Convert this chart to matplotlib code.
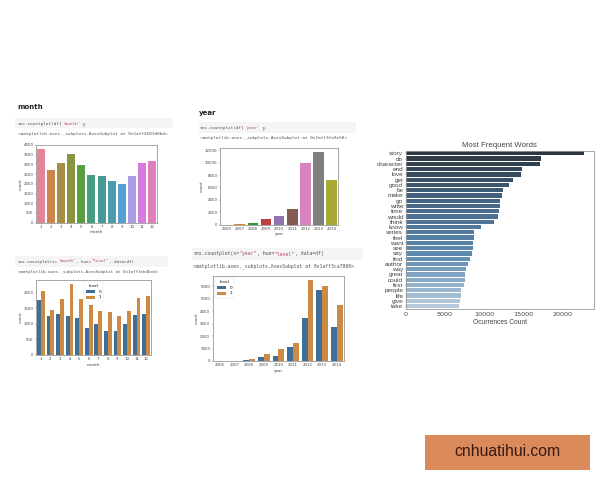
import matplotlib
matplotlib.use("Agg")
import matplotlib.pyplot as plt
from matplotlib.patches import Rectangle
from matplotlib.colors import LinearSegmentedColormap
import seaborn as sns
import numpy as np

months = [1, 2, 3, 4, 5, 6, 7, 8, 9, 10, 11, 12]
month_counts = [3794, 2695, 3073, 3519, 2970, 2455, 2403, 2146, 2009, 2386, 3090, 3193]
month_level0 = [1753, 1258, 1312, 1247, 1172, 871, 1011, 785, 774, 989, 1280, 1301]
month_level1 = [2043, 1452, 1785, 2280, 1806, 1591, 1419, 1387, 1258, 1409, 1839, 1892]

years = [2006, 2007, 2008, 2009, 2010, 2011, 2012, 2013, 2014]
year_counts = [30, 40, 200, 910, 1340, 2570, 9910, 11730, 7230]
year_level0 = [10, 10, 60, 350, 370, 1100, 3470, 5720, 2770]
year_level1 = [30, 30, 190, 560, 930, 1470, 6470, 6040, 4480]

words = ["story", "do", "character", "end", "love", "get", "good", "be", "make", "go",
         "write", "time", "would", "think", "know", "series", "feel", "want", "see", "say",
         "find", "author", "way", "great", "could", "first", "people", "life", "give", "take"]
word_counts = [22800, 17280, 17190, 14850, 14680, 13700, 13150, 12380, 12260, 12040,
               12000, 11900, 11830, 11280, 9660, 8770, 8720, 8640, 8550, 8510,
               8170, 7960, 7700, 7620, 7530, 7450, 7100, 7020, 6940, 6810]

W, H = 600, 480
fig = plt.figure(figsize=(6, 4.8), dpi=100, facecolor="white")
renderer = fig.canvas.get_renderer()
TXT = "#444444"
BLUE = "#3f6f96"
ORANGE = "#cc8a45"


def make_axes(l, t, r, b):
    ax = fig.add_axes([l / W, 1 - b / H, (r - l) / W, (b - t) / H])
    for s in ax.spines.values():
        s.set_color("#999999")
        s.set_linewidth(0.6)
    ax.tick_params(length=1, width=0.3, pad=0.8, labelsize=2.8, colors=TXT, color="#777777")
    return ax


def finish(ax, cats, xlabel, ymax, yticks):
    ax.set_xlim(-0.5, len(cats) - 0.5)
    ax.set_ylim(0, ymax)
    ax.set_xticks(np.arange(len(cats)))
    ax.set_xticklabels(cats)
    ax.set_yticks(yticks)
    ax.set_xlabel(xlabel, fontsize=3, color=TXT, labelpad=0.8)
    ax.set_ylabel("count", fontsize=3, color=TXT, labelpad=0.8)


def simple(ax, cats, vals, colors, xlabel, ymax, yticks):
    x = np.arange(len(cats))
    ax.bar(x, vals, width=0.8, color=colors)
    finish(ax, cats, xlabel, ymax, yticks)


def hued(ax, cats, a, b, xlabel, ymax, yticks, loc, anchor):
    x = np.arange(len(cats))
    ax.bar(x - 0.2, a, width=0.4, color=BLUE, label="0")
    ax.bar(x + 0.2, b, width=0.4, color=ORANGE, label="1")
    finish(ax, cats, xlabel, ymax, yticks)
    leg = ax.legend(title="level", loc=loc, bbox_to_anchor=anchor, fontsize=3, title_fontsize=3,
                    frameon=True, framealpha=0.8, edgecolor="#dddddd",
                    handlelength=2.2, handleheight=0.7, borderpad=0.5, labelspacing=0.4)
    leg.get_frame().set_linewidth(0.3)


def code(x, y, parts, size):
    for s, c in parts:
        t = fig.text(x / W, 1 - (y + 1.5) / H, s, family="DejaVu Sans Mono", fontsize=size,
                     color=c, va="baseline")
        x += t.get_window_extent(renderer).width + 0.3


def cell(l, t, r, b):
    fig.patches.append(Rectangle((l / W, 1 - b / H), (r - l) / W, (b - t) / H,
                                 transform=fig.transFigure, figure=fig,
                                 facecolor="#f5f5f5", edgecolor="none"))


CODE = "#555555"
RED = "#b5476a"

# headings and notebook cells
fig.text(17 / W, 1 - 107 / H, "month", fontsize=5, fontweight="bold", color="#222222", va="center")
cell(15, 118, 173, 128)
code(18, 123.5, [("sns.countplot(df[", CODE), ("'month'", RED), ("])", CODE)], 3.2)
code(18, 134, [("<matplotlib.axes._subplots.AxesSubplot at 0x1aff4603d0bd>", CODE)], 3.2)

fig.text(199 / W, 1 - 113 / H, "year", fontsize=5, fontweight="bold", color="#222222", va="center")
cell(199, 122, 356, 133)
code(200, 128, [("sns.countplot(df[", CODE), ("'year'", RED), ("])", CODE)], 3.2)
code(200, 138, [("<matplotlib.axes._subplots.AxesSubplot at 0x1aff3fa9e50>", CODE)], 3.2)

cell(15, 256, 168, 267)
code(18, 261, [("sns.countplot(x=", CODE), ('"month"', RED), (", hue=", CODE), ('"level"', RED),
               (", data=df)", CODE)], 3.1)
code(18, 271, [("<matplotlib.axes._subplots.AxesSubplot at 0x1aff3eb4bed>", CODE)], 3.1)

cell(192, 248, 363, 260)
code(193, 254, [("sns.countplot(x=", CODE), ('"year"', RED), (", hue=", CODE), ('"level"', RED),
                (", data=df)", CODE)], 3.5)
code(193, 266, [("<matplotlib.axes._subplots.AxesSubplot at 0x1aff3ca7860>", CODE)], 3.5)

# month count
ax1 = make_axes(36, 145, 157, 222.7)
simple(ax1, months, month_counts, sns.color_palette("husl", 12, desat=0.7), "month", 4000,
       [0, 500, 1000, 1500, 2000, 2500, 3000, 3500, 4000])

# month by level
ax2 = make_axes(36, 280, 151, 355)
hued(ax2, months, month_level0, month_level1, "month", 2408, [0, 500, 1000, 1500, 2000],
     "upper left", (0.40, 1.0))

# year count
ax3 = make_axes(220, 147.7, 338.3, 224.7)
simple(ax3, years, year_counts, sns.color_palette("tab10", 9, desat=0.75), "year", 12400,
       [0, 2000, 4000, 6000, 8000, 10000, 12000])

# year by level
ax4 = make_axes(212.7, 276, 344, 361)
hued(ax4, years, year_level0, year_level1, "year", 6830, [0, 1000, 2000, 3000, 4000, 5000, 6000],
     "upper left", (0.0, 1.0))

# frequent words
ax5 = make_axes(405.7, 150.7, 594, 308.7)
y = np.arange(len(words))
word_cmap = LinearSegmentedColormap.from_list("w", ["#2c3640", "#47688a", "#5d8bb0", "#b7cbdc"])
ax5.barh(y, word_counts, height=0.8, color=word_cmap(np.linspace(0, 1, len(words))))
ax5.set_ylim(len(words) - 0.5, -0.5)
ax5.set_xlim(0, 24040)
ax5.set_yticks(y)
ax5.set_yticklabels(words, fontsize=4.6, family="Liberation Sans")
ax5.set_xticks([0, 5000, 10000, 15000, 20000])
ax5.tick_params(axis="x", labelsize=4.6, pad=1.2)
ax5.set_xlabel("Ocurrences Count", fontsize=4.8, color=TXT, labelpad=1.5, family="Liberation Sans")
ax5.set_title("Most Frequent Words", fontsize=5.6, color=TXT, pad=2.5, family="Liberation Sans")

# watermark
fig.patches.append(Rectangle((425 / W, 1 - 470 / H), 165 / W, 35 / H, transform=fig.transFigure,
                             figure=fig, facecolor="#db8a5c", edgecolor="none"))
fig.text(507 / W, 1 - 452 / H, "cnhuatihui.com", family="Liberation Sans", fontsize=11.3,
         color="#3a1a10", ha="center", va="center")

fig.savefig("out.png", dpi=100)
